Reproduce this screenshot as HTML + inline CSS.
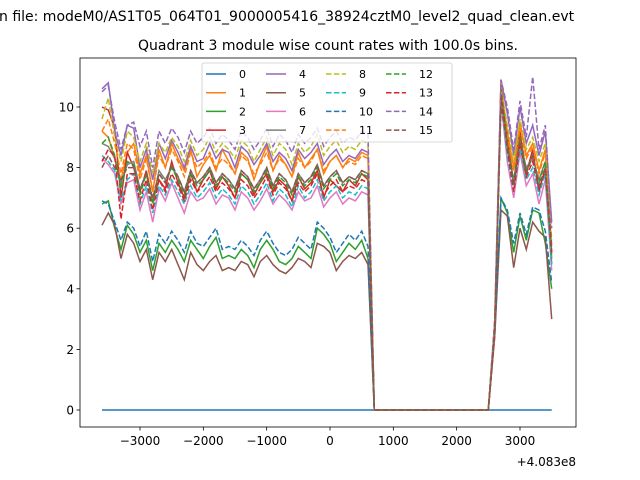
<!DOCTYPE html>
<html><head><meta charset="utf-8"><style>body{margin:0;background:#fff}svg{display:block;font-family:"DejaVu Sans","Liberation Sans",sans-serif}</style></head>
<body>
<svg id="chart" width="640" height="480" viewBox="0 0 640 480" xmlns="http://www.w3.org/2000/svg">
<rect width="640" height="480" fill="#fff"/>
<text x="-1" y="21" font-size="14" fill="#000">n file: modeM0/AS1T05_064T01_9000005416_38924cztM0_level2_quad_clean.evt</text>
<text x="328" y="50" font-size="14" text-anchor="middle" fill="#000">Quadrant 3 module wise count rates with 100.0s bins.</text>
<g id="plot"></g>
<g id="axes"></g>
<g id="legend"></g>
<text x="576" y="466" font-size="12" text-anchor="end" fill="#000">+4.083e8</text>
</svg>
<script>
const times=[];for(let t=-3600;t<=3500;t+=100)times.push(t);
const gap=[0,0,0,0,0,0,0,0,0,0,0,0,0,0,0,0,0,0,0];
const s0=[0,0,0,0,0,0,0,0,0,0,0,0,0,0,0,0,0,0,0,0,0,0,0,0,0,0,0,0,0,0,0,0,0,0,0,0,0,0,0,0,0,0,0,0,0,0,0,0,0,0,0,0,0,0,0,0,0,0,0,0,0,0,0,0,0,0,0,0,0,0,0,0];
const e1=[9.2,9.0,8.3,7.6,8.5,8.8,7.8,8.4,7.2,8.6,8.0,8.8,8.3,7.9,8.6,7.7,8.1,8.4,7.9,8.6,8.2,7.8,8.5,8.3,7.6,8.2,8.7,7.9,8.4,8.1,7.7,8.5,8.0,8.3,8.6,7.8,8.2,8.4,8.0,8.3,8.2,8.5,8.4], l1=[2.8,10.6,9.2,8.0,9.5,8.4,8.8,7.9,8.6,5.0];
const e2=[6.8,6.9,6.0,5.3,6.1,5.8,5.2,5.6,4.6,5.5,5.2,5.6,5.3,4.9,5.6,5.3,5.0,5.4,5.7,5.0,5.1,5.0,5.3,5.1,4.7,5.3,5.6,5.3,4.9,4.8,5.0,5.4,5.2,5.0,6.0,5.8,5.5,4.9,5.2,5.5,5.3,5.6,5.0], l2=[2.5,7.0,6.5,5.2,6.4,5.6,6.6,6.5,5.5,4.0];
const e3=[10.0,9.9,9.3,7.0,8.5,8.0,7.2,7.9,6.9,7.6,7.3,8.2,7.5,7.0,7.8,7.2,7.6,7.9,7.3,7.7,7.4,7.0,7.8,7.6,7.1,7.5,7.8,7.2,7.6,7.4,6.9,7.7,7.3,7.5,7.9,7.0,7.6,7.4,7.2,7.6,7.4,7.8,7.6], l3=[2.6,10.8,9.0,7.5,9.2,7.8,8.6,7.2,8.0,5.2];
const e4=[10.6,10.8,9.2,8.4,9.4,9.3,8.0,8.6,7.6,8.8,8.3,8.9,8.5,8.0,8.7,8.2,8.3,8.8,8.3,8.6,8.5,8.0,8.7,8.5,8.1,8.4,8.8,8.2,8.5,8.3,7.9,8.6,8.3,8.5,8.8,8.1,8.4,8.6,8.2,8.4,8.3,8.6,8.5], l4=[2.9,10.9,9.8,8.4,10.0,8.8,9.4,8.4,9.2,6.2];
const e5=[6.1,6.5,6.1,5.0,5.8,5.5,4.9,5.3,4.3,5.2,4.9,5.3,4.8,4.3,5.2,4.8,4.6,4.9,5.1,4.6,4.7,4.6,4.9,4.8,4.4,4.9,5.1,4.8,4.6,4.5,4.7,5.0,4.9,4.7,5.5,5.4,5.2,4.6,4.9,5.1,5.0,5.2,4.8], l5=[2.4,6.6,6.4,4.7,6.0,5.3,6.2,5.9,5.7,3.0];
const e6=[8.3,8.1,7.8,6.8,7.5,7.6,6.6,7.2,6.2,7.3,6.9,7.5,7.0,6.5,7.2,6.9,7.0,7.3,6.8,7.1,7.0,6.6,7.2,7.0,6.6,6.9,7.3,6.8,7.1,6.9,6.6,7.2,6.9,7.0,7.4,6.7,7.0,7.2,6.8,7.0,6.9,7.2,7.1], l6=[2.5,10.2,8.2,7.0,8.5,7.4,7.8,6.8,7.6,4.6];
const e7=[8.8,8.7,8.3,7.5,8.1,8.2,7.3,7.8,6.9,7.9,7.6,8.0,7.7,7.2,7.9,7.5,7.7,8.0,7.5,7.8,7.6,7.3,7.9,7.7,7.3,7.6,8.0,7.4,7.8,7.6,7.2,7.8,7.5,7.7,8.1,7.4,7.7,7.9,7.5,7.7,7.6,7.9,7.8], l7=[2.7,10.4,8.6,7.6,8.8,8.0,8.3,7.6,8.2,4.8];
const e8=[9.6,10.3,9.0,8.2,9.2,9.0,8.2,8.8,7.8,8.8,8.5,9.0,8.7,8.2,8.9,8.4,8.6,9.0,8.5,8.8,8.6,8.3,8.9,8.7,8.2,8.6,9.0,8.4,8.8,8.6,8.1,8.8,8.5,8.7,9.1,8.4,8.7,8.9,8.5,8.7,8.6,8.9,8.8], l8=[2.8,10.6,9.4,8.2,9.6,8.6,9.0,8.2,8.8,5.6];
const e9=[8.4,8.2,7.9,6.9,7.6,7.8,6.8,7.4,6.5,7.4,7.1,7.6,7.2,6.8,7.4,7.0,7.2,7.5,7.0,7.3,7.1,6.8,7.4,7.2,6.8,7.1,7.5,6.9,7.3,7.1,6.7,7.4,7.0,7.2,7.6,6.9,7.2,7.4,7.0,7.2,7.1,7.4,7.3], l9=[2.6,10.3,8.4,7.2,8.6,7.6,8.0,7.1,7.8,4.8];
const e10=[6.9,6.8,6.2,5.6,6.2,6.0,5.4,5.9,4.9,5.8,5.5,5.9,5.6,5.2,5.9,5.5,5.4,5.7,6.0,5.3,5.4,5.3,5.6,5.4,5.1,5.6,5.9,5.5,5.2,5.1,5.3,5.7,5.5,5.3,6.2,6.0,5.7,5.2,5.5,5.8,5.6,5.9,5.4], l10=[2.6,7.0,6.6,5.5,6.5,5.8,6.7,6.6,5.9,4.2];
const e11=[9.2,9.6,8.8,7.8,8.8,8.6,7.6,8.3,7.2,8.4,8.0,8.6,8.2,7.7,8.5,8.0,8.2,8.5,8.0,8.3,8.1,7.8,8.4,8.2,7.8,8.1,8.5,7.9,8.3,8.1,7.7,8.3,8.0,8.2,8.6,7.9,8.2,8.4,8.0,8.2,8.1,8.4,8.3], l11=[2.7,10.8,9.0,7.9,9.3,8.3,8.7,7.8,8.5,5.4];
const e12=[8.8,9.0,8.4,7.3,8.2,8.1,7.1,7.8,6.8,7.8,7.5,8.0,7.6,7.1,7.8,7.4,7.6,7.9,7.4,7.7,7.5,7.2,7.8,7.6,7.2,7.5,7.9,7.3,7.7,7.5,7.1,7.7,7.4,7.6,8.0,7.3,7.6,7.8,7.4,7.6,7.5,7.8,7.7], l12=[2.6,10.6,8.8,7.5,9.0,7.9,8.4,7.5,8.2,5.0];
const e13=[8.2,8.6,8.4,6.3,7.8,7.8,6.9,7.6,6.6,7.6,7.2,7.8,7.4,6.9,7.6,7.2,7.4,7.7,7.2,7.5,7.3,7.0,7.6,7.4,7.0,7.3,7.7,7.1,7.5,7.3,6.9,7.5,7.2,7.4,7.8,7.1,7.4,7.6,7.2,7.4,7.3,7.6,7.5], l13=[2.5,10.4,8.6,7.2,8.8,7.7,8.2,7.3,7.9,5.2];
const e14=[10.5,10.7,9.5,8.6,9.4,9.5,8.7,9.2,8.0,9.2,8.8,9.3,9.0,8.5,9.2,8.8,9.0,9.3,8.8,9.1,8.9,8.6,9.2,9.0,8.6,8.9,9.3,8.7,9.1,8.9,8.5,9.1,8.8,9.0,9.3,8.7,9.0,9.2,8.8,9.0,8.9,9.2,9.1], l14=[3.0,10.9,10.0,8.6,10.2,9.0,11.0,8.6,9.4,6.0];
const e15=[8.0,8.4,8.0,7.6,8.0,8.0,7.3,7.8,7.0,7.8,7.5,8.1,7.7,7.2,7.9,7.5,7.7,8.0,7.5,7.8,7.6,7.3,7.9,7.7,7.3,7.6,8.0,7.4,7.8,7.6,7.2,7.8,7.5,7.7,8.1,7.4,7.7,7.9,7.5,7.7,7.6,7.9,7.8], l15=[2.6,10.0,8.8,7.4,8.9,7.8,8.4,7.4,8.0,5.4];
const labels=["0","1","2","3","4","5","6","7","8","9","10","11","12","13","14","15"];
const xTicks=[-3000,-2000,-1000,0,1000,2000,3000];
const yTicks=[0,2,4,6,8,10];

const series=[s0,e1.concat(gap,l1),e2.concat(gap,l2),e3.concat(gap,l3),e4.concat(gap,l4),e5.concat(gap,l5),e6.concat(gap,l6),e7.concat(gap,l7),e8.concat(gap,l8),e9.concat(gap,l9),e10.concat(gap,l10),e11.concat(gap,l11),e12.concat(gap,l12),e13.concat(gap,l13),e14.concat(gap,l14),e15.concat(gap,l15)];
const colors=["#1f77b4","#ff7f0e","#2ca02c","#d62728","#9467bd","#8c564b","#e377c2","#7f7f7f","#bcbd22","#17becf","#1f77b4","#ff7f0e","#2ca02c","#d62728","#9467bd","#8c564b"];
const L=80,R=576,T=58,B=427;
const xS=v=>330+(v)*380/6000;
const yS=v=>410-v*30.3;
const NS="http://www.w3.org/2000/svg";
function mk(tag,attrs,parent){const e=document.createElementNS(NS,tag);for(const k in attrs)e.setAttribute(k,attrs[k]);parent.appendChild(e);return e;}
const plot=document.getElementById('plot'),axes=document.getElementById('axes'),leg=document.getElementById('legend');
series.forEach((s,i)=>{
  const d=s.map((v,j)=>(j?'L':'M')+xS(times[j]).toFixed(1)+' '+yS(v).toFixed(1)).join(' ');
  const p=mk('path',{d:d,fill:'none',stroke:colors[i],'stroke-width':1.5,'stroke-dasharray':i>=8?'5.5,2.4':'none'},plot);
  
  
});
const frame=mk('rect',{x:L,y:T,width:R-L,height:B-T,fill:'none',stroke:'#000','stroke-width':0.8},axes);


xTicks.forEach(t=>{
  const x=xS(t);
  mk('line',{x1:x,x2:x,y1:B,y2:B+3.5,stroke:'#000','stroke-width':0.8},axes);
  const tx=mk('text',{x:x,y:B+18,'font-size':12,'text-anchor':'middle'},axes);
  tx.textContent=String(t).replace('-','\u2212');
  
  
});
yTicks.forEach(t=>{
  const y=yS(t);
  mk('line',{x1:L,x2:L-3.5,y1:y,y2:y,stroke:'#000','stroke-width':0.8},axes);
  const tx=mk('text',{x:L-6,y:y+4.5,'font-size':12,'text-anchor':'end'},axes);
  tx.textContent=t;
  
  
});
const lb=mk('rect',{x:202,y:63,width:250,height:79,rx:2,fill:'#fff','fill-opacity':0.8,stroke:'#ccc','stroke-width':0.8},leg);


labels.forEach((lab,i)=>{
  const c=Math.floor(i/4),r=i%4;
  const x=206+c*60,y=74+r*18.7;
  const ln=mk('line',{x1:x,x2:x+20,y1:y,y2:y,stroke:colors[i],'stroke-width':1.5,'stroke-dasharray':i>=8?'5.5,2.4':'none'},leg);
  
  
  const tx=mk('text',{x:x+33,y:y+4,'font-size':11},leg);
  tx.textContent=lab;
  
  
});
</script>
</body></html>
